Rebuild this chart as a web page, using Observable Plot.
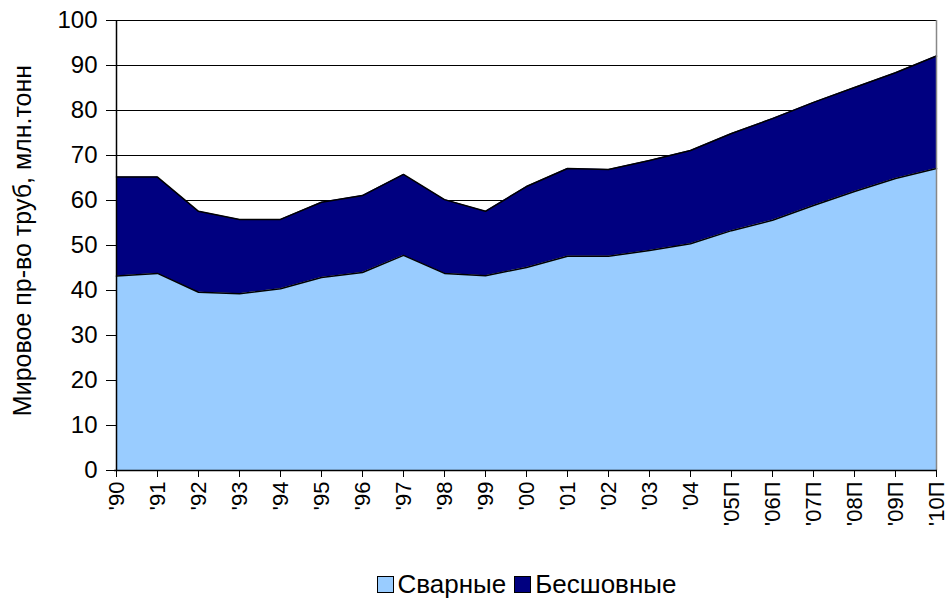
<!DOCTYPE html>
<html>
<head>
<meta charset="utf-8">
<script src="https://cdn.jsdelivr.net/npm/d3@7"></script>
<script src="https://cdn.jsdelivr.net/npm/@observablehq/plot@0.6"></script>
<style>
  body { margin: 0; background: #fff; font-family: Arial, "Liberation Sans", sans-serif; }
  #legend { display: flex; justify-content: center; align-items: center; gap: 8px; font-size: 26px; height: 46px; margin-left: 102px; padding-top: 6px; }
  .sw { display: inline-block; width: 15px; height: 15px; border: 1px solid #000; margin-right: 4px; vertical-align: middle; }
  .item { display: flex; align-items: center; }
</style>
</head>
<body>
<div id="chart"></div>
<div id="legend"></div>
<script>
const years = ["'90","'91","'92","'93","'94","'95","'96","'97","'98","'99","'00","'01","'02","'03","'04","'05П","'06П","'07П","'08П","'09П","'10П"];
const welded = [43.2, 43.8, 39.6, 39.3, 40.4, 42.9, 44.0, 47.8, 43.8, 43.3, 45.1, 47.6, 47.6, 48.9, 50.4, 53.3, 55.6, 58.9, 62.0, 64.9, 67.1];
const total  = [65.2, 65.2, 57.6, 55.8, 55.8, 59.6, 61.1, 65.8, 60.2, 57.6, 63.1, 67.1, 66.9, 68.9, 71.1, 74.9, 78.2, 81.8, 85.1, 88.4, 92.1];
const seamless = total.map((t, i) => +(t - welded[i]).toFixed(1));
const seriesNames = ["Сварные", "Бесшовные"];
const seriesColors = ["#99CCFF", "#000080"];
const yTicks = [0,10,20,30,40,50,60,70,80,90,100];
const yLabel = "Мировое пр-во труб, млн.тонн";

const data = [];
years.forEach((y, i) => {
  data.push({year: y, series: seriesNames[0], value: welded[i]});
  data.push({year: y, series: seriesNames[1], value: seamless[i]});
});

const chart = Plot.plot({
  width: 951,
  height: 555,
  marginTop: 20,
  marginBottom: 85,
  marginLeft: 114,
  marginRight: 14,
  style: {fontFamily: "Arial, 'Liberation Sans', sans-serif", background: "#fff"},
  x: {type: "point", domain: years, padding: 0},
  y: {domain: [0, 100]},
  color: {domain: seriesNames, range: seriesColors},
  marks: [
    Plot.ruleY(yTicks.filter(d => d > 0), {stroke: "#000", strokeWidth: 1}),
    Plot.areaY(data, {x: "year", y: "value", z: "series", fill: "series", order: seriesNames}),
    Plot.lineY(data, Plot.stackY2({x: "year", y: "value", z: "series", order: seriesNames, stroke: "#000", strokeWidth: 1.5})),
    Plot.ruleX([years[years.length - 1]], {stroke: "#888", strokeWidth: 1.5}),
    Plot.ruleX([years[0]], {stroke: "#000", strokeWidth: 1.5}),
    Plot.ruleY([0], {stroke: "#000", strokeWidth: 1.5}),
    Plot.axisY({ticks: yTicks, tickSize: 8, tickPadding: 9, fontSize: 24, label: null, stroke: "#000"}),
    Plot.axisX({tickSize: 7, tickPadding: 4, tickRotate: -90, fontSize: 22, label: null}),
    Plot.text([yLabel], {frameAnchor: "left", textAnchor: "middle", dx: -92, dy: -5, rotate: -90, fontSize: 25, text: d => d})
  ]
});
chart.querySelectorAll("text").forEach(t => t.setAttribute("fill", "#000"));
document.getElementById("chart").appendChild(chart);

const legend = document.getElementById("legend");
seriesNames.forEach((n, i) => {
  const it = document.createElement("span");
  it.className = "item";
  it.innerHTML = `<span class="sw" style="background:${seriesColors[i]}"></span>${n}`;
  legend.appendChild(it);
});
</script>
</body>
</html>
